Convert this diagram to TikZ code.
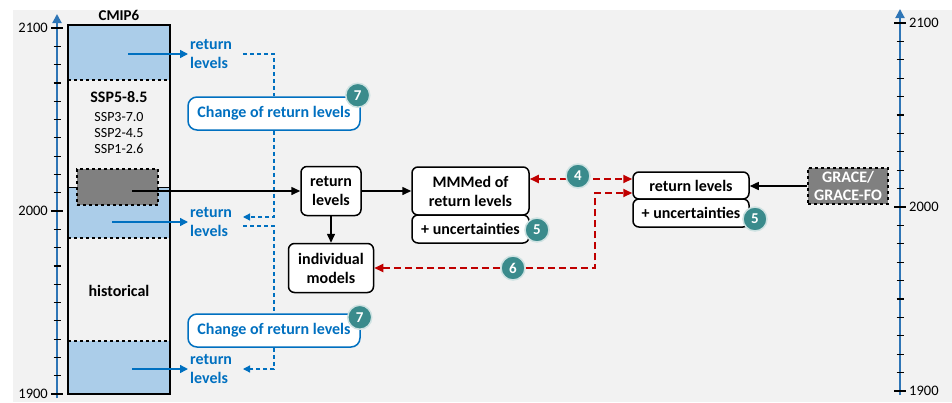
\documentclass[tikz,border=0pt]{standalone}
\usepackage{fontspec}
\setmainfont{Carlito}
\usetikzlibrary{arrows.meta}
\definecolor{bgc}{RGB}{242,242,242}
\definecolor{lblue}{RGB}{171,205,233}
\definecolor{dblue}{RGB}{0,112,192}
\definecolor{axblue}{RGB}{46,117,182}
\definecolor{tealb}{RGB}{58,139,140}
\definecolor{dred}{RGB}{192,0,0}
\definecolor{gbox}{RGB}{128,128,128}
\tikzset{
  axlab/.style={font=\fontsize{14.5}{17}\selectfont, inner sep=1pt},
  bbox/.style={draw, rounded corners=6pt, fill=white, line width=1.5pt, align=center,
    font=\bfseries\fontsize{16}{19}\selectfont, inner sep=0pt},
  chbox/.style={draw=dblue, text=dblue, rounded corners=9pt, fill=white, line width=1.5pt,
    font=\bfseries\fontsize{16}{19}\selectfont, inner sep=0pt, minimum width=172, minimum height=33},
  bluetext/.style={text=dblue, align=left, font=\bfseries\fontsize{16}{19}\selectfont, inner sep=2pt},
  badge/.style={circle, fill=tealb, draw=white!75!tealb, line width=1.5pt, minimum size=24,
    inner sep=0pt, text=white, font=\bfseries\fontsize{15}{15}\selectfont},
  barrow/.style={dblue, line width=1.5pt, -{Triangle[length=8pt,width=8pt]}},
  bdash/.style={dblue, line width=1.3pt, dash pattern=on 4pt off 3pt},
  btip/.style={-{Triangle[length=7pt,width=7pt]}},
  karrow/.style={black, line width=1.5pt, -{Triangle[length=9pt,width=8pt]}},
  rdash/.style={dred, line width=2pt, dash pattern=on 7pt off 4pt},
  rtips/.style={{Triangle[length=9pt,width=8pt]}-{Triangle[length=9pt,width=8pt]}},
}
\begin{document}
\begin{tikzpicture}[x=1pt,y=-1pt]
\useasboundingbox (0,0) rectangle (952,402);
\fill[bgc] (13,10) rectangle (952,402);

% left axis
\draw[axblue, line width=2pt, -{Triangle[length=9pt,width=9pt]}] (57,398) -- (57,14);
\foreach \i in {1,...,9,11,12,13,14,15,16,17,18,19} \draw[black, line width=1.2pt] ({53.5},{394-\i*18.3}) -- ({60.5},{394-\i*18.3});
\foreach \i in {0,10,20} \draw[black, line width=1.2pt] ({51},{394-\i*18.3}) -- ({63},{394-\i*18.3});
\node[axlab, anchor=east] (l2100) at (49,28) {2100};
\node[axlab, anchor=east] (l2000) at (49,211) {2000};
\node[axlab, anchor=east] (l1900) at (49,394) {1900};

% right axis
\draw[axblue, line width=2pt, -{Triangle[length=9pt,width=9pt]}] (900,395) -- (900,9);
\foreach \i in {1,...,9,11,12,13,14,15,16,17,18,19} \draw[black, line width=1.2pt] ({896.5},{391-\i*18.4}) -- ({903.5},{391-\i*18.4});
\foreach \i in {0,10,20} \draw[black, line width=1.2pt] ({894},{391-\i*18.4}) -- ({906},{391-\i*18.4});
\node[axlab, anchor=west] (r2100) at (908,23) {2100};
\node[axlab, anchor=west] (r2000) at (908,207) {2000};
\node[axlab, anchor=west] (r1900) at (908,391) {1900};

% CMIP6 column
\fill[lblue] (68,25) rectangle (170,80);
\fill[lblue] (68,187) rectangle (170,238);
\fill[lblue] (68,341) rectangle (170,394);
\draw[line width=1.2pt, dashed] (68,80) -- (170,80);
\draw[line width=1.2pt, dashed] (68,238) -- (170,238);
\draw[line width=1.2pt, dashed] (68,341) -- (170,341);
\draw[line width=1pt] (68,187) -- (170,187);
\draw[line width=1.6pt] (68,25) rectangle (170,394);
\node[draw, dashed, fill=gbox, line width=1.3pt, minimum width=81, minimum height=36, inner sep=0pt] (gb) at (117.5,187) {};

\node[font=\bfseries\fontsize{15}{18}\selectfont, inner sep=0pt] (cmip) at (119,15) {CMIP6};
\node[font=\bfseries\fontsize{16}{19}\selectfont, inner sep=0pt] (s5) at (119,97) {SSP5-8.5};
\node[font=\fontsize{14}{17}\selectfont, inner sep=0pt] (s3) at (119,117) {SSP3-7.0};
\node[font=\fontsize{14}{17}\selectfont, inner sep=0pt] (s2) at (119,133) {SSP2-4.5};
\node[font=\fontsize{14}{17}\selectfont, inner sep=0pt] (s1) at (119,149) {SSP1-2.6};
\node[font=\bfseries\fontsize{16}{19}\selectfont, inner sep=0pt] (hist) at (119,291) {historical};

% blue return levels
\node[bluetext, anchor=west] (rl1) at (188,54) {return\\levels};
\node[bluetext, anchor=west] (rl2) at (188,222) {return\\levels};
\node[bluetext, anchor=west] (rl3) at (188,369) {return\\levels};
\coordinate (a1) at (128,54);
\coordinate (a2) at (112,222);
\coordinate (a3) at (132,369);
\draw[barrow] (a1) -- (a1 -| rl1.west);
\draw[barrow] (a2) -- (a2 -| rl2.west);
\draw[barrow] (a3) -- (a3 -| rl3.west);

% change boxes
\node[chbox] (ch1) at (274,113.5) {Change of return levels};
\node[chbox] (ch2) at (274,330.5) {Change of return levels};
\node[badge] (b7a) at ([xshift=-3pt,yshift=1pt]ch1.north east) {7};
\node[badge] (b7b) at ([xshift=-1pt,yshift=-4pt]ch2.north east) {7};

\coordinate (d1) at (243,54);
\coordinate (d2) at (243,217);
\coordinate (d3) at (243,226);
\coordinate (d4) at (243,369);
\draw[bdash] (d1) -| (ch1.north);
\draw[bdash, btip] (ch1.south) |- (d2);
\draw[bdash] (d3) -| (ch2.north);
\draw[bdash, btip] (ch2.south) |- (d4);

% central boxes
\node[bbox, minimum width=60, minimum height=49] (rl) at (331,191) {return\\levels};
\node[bbox, minimum width=85, minimum height=49] (ind) at (331,268) {individual\\models};
\node[bbox, minimum width=117, minimum height=48] (mmm) at (470.5,191) {MMMed of\\return levels};
\node[bbox, minimum width=117, minimum height=28] (unc1) at (470.5,229) {+ uncertainties};
\node[badge] (b5a) at (537,230) {5};
\node[bbox, minimum width=116, minimum height=27] (rrl) at (691,185.5) {return levels};
\node[bbox, minimum width=116, minimum height=28] (unc2) at (691,213) {+ uncertainties};
\node[badge] (b5b) at (755,219) {5};
\node[draw, dashed, fill=gbox, line width=1.3pt, minimum width=80, minimum height=36, inner sep=0pt,
  text=white, align=center, font=\bfseries\fontsize{16}{18}\selectfont] (grace) at (848,186) {GRACE/\\GRACE-FO};

% black arrows
\coordinate (gs) at (132,191);
\draw[karrow] (gs) -- (gs -| rl.west);
\draw[karrow] (rl.east) -- (rl.east -| mmm.west);
\draw[karrow] (rl.south) -- (ind.north);
\draw[karrow] (grace.west) -- (grace.west -| rrl.east);

% red dashed
\coordinate (r1) at (529,179);
\draw[rdash, rtips] (r1 -| mmm.east) -- (r1 -| rrl.west);
\node[badge] (b4) at (578,176) {4};
\coordinate (rc) at (595,268);
\coordinate (r2) at (595,193);
\draw[rdash, rtips] (ind.east) -- (rc) -- (r2) -- (r2 -| rrl.west);
\node[badge] (b6) at (513,268) {6};
\end{tikzpicture}
\end{document}
